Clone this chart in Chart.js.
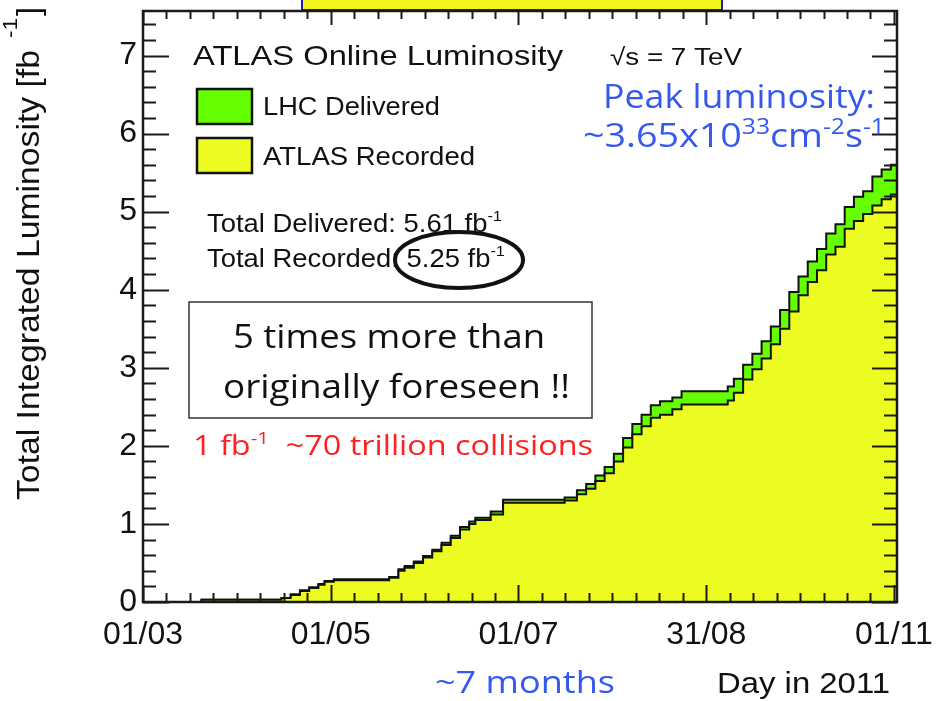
<!DOCTYPE html>
<html>
<head>
<meta charset="utf-8">
<script src="https://cdn.jsdelivr.net/npm/chart.js@4.4.1/dist/chart.umd.min.js"></script>
<style>
  body { margin: 0; background: #fff; }
  #wrap { width: 937px; height: 701px; }
</style>
</head>
<body>
<div id="wrap"><canvas id="lumiChart" width="937" height="701"></canvas></div>
<script>
// days since 01/03/2011
const days = [0, 19, 45, 48, 51, 54, 57, 59, 62, 80, 83, 85, 88, 91, 94, 97, 100, 103, 106, 108, 113, 117,
  137, 141, 144, 147, 150, 153, 156, 159, 162, 165, 168, 172, 175, 190, 192, 195, 198, 201, 204, 207,
  210, 213, 216, 219, 222, 225, 228, 231, 234, 237, 240, 243, 245];

// LHC delivered [fb^-1]
const delivered = [0, 0.03, 0.05, 0.10, 0.15, 0.19, 0.23, 0.27, 0.29, 0.32, 0.42, 0.46, 0.52, 0.59, 0.67, 0.76, 0.85, 0.96, 1.03, 1.08, 1.16, 1.31,
  1.34, 1.43, 1.51, 1.62, 1.73, 1.90, 2.10, 2.28, 2.40, 2.52, 2.57, 2.62, 2.70, 2.76, 2.86, 3.04, 3.18, 3.34, 3.53, 3.74,
  3.97, 4.17, 4.36, 4.52, 4.72, 4.84, 5.06, 5.19, 5.26, 5.45, 5.54, 5.60, 5.61];

// ATLAS recorded [fb^-1]
const recorded = [0, 0.03, 0.05, 0.09, 0.14, 0.18, 0.22, 0.26, 0.28, 0.31, 0.40, 0.44, 0.50, 0.57, 0.65, 0.73, 0.82, 0.93, 1.00, 1.05, 1.12, 1.27,
  1.30, 1.38, 1.45, 1.55, 1.65, 1.80, 1.98, 2.15, 2.25, 2.36, 2.40, 2.47, 2.53, 2.58, 2.68, 2.85, 2.98, 3.12, 3.30, 3.50,
  3.72, 3.93, 4.10, 4.25, 4.45, 4.55, 4.78, 4.88, 4.97, 5.08, 5.16, 5.22, 5.25];

const xTickDays = [0, 61, 122, 183, 244];
const xTickLabels = ['01/03', '01/05', '01/07', '31/08', '01/11'];
const yTicks = [0, 1, 2, 3, 4, 5, 6, 7];

const GREEN = '#66ff00';
const YELLOW = '#ecfc20';
const BLUE = '#3558ee';
const RED = '#ff2020';
const SANS = '"Liberation Sans", Arial, sans-serif';
const COMIC = '"Comic Sans MS", "Open Sans", sans-serif';

// draw a line of text pieces (for superscripts), squeezed/stretched to a given width
function drawRich(ctx, parts, x, y, width, color, family) {
  ctx.save();
  ctx.fillStyle = color;
  ctx.textBaseline = 'alphabetic';
  ctx.textAlign = 'left';
  let total = 0;
  parts.forEach(p => {
    ctx.font = (p.weight || '') + ' ' + p.size + 'px ' + family;
    total += ctx.measureText(p.t).width;
  });
  ctx.translate(x, y);
  ctx.scale(width / total, 1);
  let cx = 0;
  parts.forEach(p => {
    ctx.font = (p.weight || '') + ' ' + p.size + 'px ' + family;
    ctx.fillText(p.t, cx, p.dy || 0);
    cx += ctx.measureText(p.t).width;
  });
  ctx.restore();
}

const decorations = {
  id: 'decorations',
  beforeDraw(chart) {
    const ctx = chart.ctx;
    // title box peeking at the top
    ctx.save();
    ctx.fillStyle = '#f2f41c';
    ctx.strokeStyle = '#2020b0';
    ctx.lineWidth = 2;
    ctx.fillRect(302, -5, 420, 15);
    ctx.strokeRect(302, -5, 420, 15);
    ctx.restore();
  },
  afterDatasetsDraw(chart) {
    const ctx = chart.ctx;
    const xs = chart.scales.x, ys = chart.scales.y;
    const a = chart.chartArea;

    ctx.save();
    ctx.strokeStyle = '#1a1a1a';
    ctx.lineWidth = 2;
    ctx.beginPath();
    // x ticks, inside the frame, bottom and top
    for (let k = 0; k <= 32; k++) {
      const px = Math.round(xs.getPixelForValue(k * 61 / 8)) + 0.5;
      const major = k % 8 === 0;
      ctx.moveTo(px, a.bottom); ctx.lineTo(px, a.bottom - (major ? 17 : 9));
      ctx.moveTo(px, a.top); ctx.lineTo(px, a.top + (major ? 14 : 8));
    }
    // y ticks, left and right
    for (let k = 0; k * 0.2 <= 7.5; k++) {
      const py = Math.round(ys.getPixelForValue(k * 0.2)) + 0.5;
      const major = k % 5 === 0;
      ctx.moveTo(a.left, py); ctx.lineTo(a.left + (major ? 26 : 13), py);
      ctx.moveTo(a.right, py); ctx.lineTo(a.right - (major ? 25 : 13), py);
    }
    ctx.stroke();
    ctx.lineWidth = 2.5;
    ctx.strokeRect(a.left, a.top, a.right - a.left, a.bottom - a.top);
    ctx.restore();
  },
  afterDraw(chart) {
    const ctx = chart.ctx;

    // y axis title, rotated
    ctx.save();
    ctx.translate(39, 500);
    ctx.rotate(-Math.PI / 2);
    drawRich(ctx, [{ t: 'Total Integrated Luminosity [fb', size: 31 }], 0, 0, 450, '#111', SANS);
    drawRich(ctx, [{ t: '-1', size: 20 }], 462, -22, 20, '#111', SANS);
    drawRich(ctx, [{ t: ']', size: 31 }], 484, 0, 9, '#111', SANS);
    ctx.restore();

    // x axis title and months note
    drawRich(ctx, [{ t: 'Day in 2011', size: 29 }], 717, 693, 173, '#111', SANS);
    drawRich(ctx, [{ t: '~7 months', size: 31 }], 435, 693, 180, BLUE, COMIC);

    // legend block
    drawRich(ctx, [{ t: 'ATLAS Online Luminosity', size: 28 }], 193, 65, 370, '#111', SANS);
    drawRich(ctx, [{ t: '\u221As = 7 TeV', size: 24 }], 610, 65, 132, '#111', SANS);
    ctx.save();
    ctx.lineWidth = 2.5;
    ctx.strokeStyle = '#111';
    ctx.fillStyle = GREEN;
    ctx.fillRect(197, 89, 55, 35);
    ctx.strokeRect(197, 89, 55, 35);
    ctx.fillStyle = YELLOW;
    ctx.fillRect(197, 138, 55, 35);
    ctx.strokeRect(197, 138, 55, 35);
    ctx.restore();
    drawRich(ctx, [{ t: 'LHC Delivered', size: 25 }], 263, 115, 177, '#111', SANS);
    drawRich(ctx, [{ t: 'ATLAS Recorded', size: 25 }], 263, 165, 212, '#111', SANS);

    drawRich(ctx, [{ t: 'Total Delivered: 5.61 fb', size: 25 }, { t: '-1', size: 15, dy: -11 }], 207, 232, 295, '#111', SANS);
    drawRich(ctx, [{ t: 'Total Recorded: 5.25 fb', size: 25 }, { t: '-1', size: 15, dy: -11 }], 207, 267, 298, '#111', SANS);

    // circle round the recorded total
    ctx.save();
    ctx.lineWidth = 4;
    ctx.strokeStyle = '#111';
    ctx.beginPath();
    ctx.ellipse(459, 260, 64, 28, 0, 0, Math.PI * 2);
    ctx.stroke();
    ctx.restore();

    // boxed remark
    ctx.save();
    ctx.fillStyle = '#fff';
    ctx.fillRect(189, 302, 403, 116);
    ctx.lineWidth = 1.5;
    ctx.strokeStyle = '#333';
    ctx.strokeRect(189, 302, 403, 116);
    ctx.restore();
    drawRich(ctx, [{ t: '5 times more than', size: 33, weight: '500' }], 233, 348, 312, '#111', COMIC);
    drawRich(ctx, [{ t: 'originally foreseen !!', size: 33, weight: '500' }], 223, 398, 347, '#111', COMIC);

    drawRich(ctx, [{ t: '1 fb', size: 27 }, { t: '-1', size: 17, dy: -11 }, { t: '  ~70 trillion collisions', size: 27 }],
      193, 455, 400, RED, COMIC);

    // peak luminosity note
    drawRich(ctx, [{ t: 'Peak luminosity:', size: 32 }], 603, 108, 272, BLUE, COMIC);
    drawRich(ctx, [
      { t: '~3.65x10', size: 32 }, { t: '33', size: 21, dy: -13 },
      { t: 'cm', size: 32 }, { t: '-2', size: 21, dy: -13 },
      { t: 's', size: 32 }, { t: '-1', size: 21, dy: -13 }
    ], 583, 147, 302, BLUE, COMIC);
  }
};

const ctx = document.getElementById('lumiChart').getContext('2d');
const lumiChart = new Chart(ctx, {
  type: 'line',
  data: {
    datasets: [{
      label: 'ATLAS Recorded',
      data: days.map((d, i) => ({ x: d, y: recorded[i] })),
      borderColor: '#111',
      backgroundColor: YELLOW,
      borderWidth: 2,
      stepped: true,
      fill: 'origin',
      pointRadius: 0
    }, {
      label: 'LHC Delivered',
      data: days.map((d, i) => ({ x: d, y: delivered[i] })),
      borderColor: '#111',
      backgroundColor: GREEN,
      borderWidth: 2,
      stepped: true,
      fill: 'origin',
      pointRadius: 0
    }]
  },
  options: {
    responsive: false,
    animation: false,
    devicePixelRatio: 1,
    layout: { padding: { top: 11, right: 40, left: 0, bottom: 0 } },
    plugins: {
      legend: { display: false },
      tooltip: { enabled: false }
    },
    scales: {
      x: {
        type: 'linear',
        min: 0,
        max: 245,
        grid: { display: false, drawTicks: false },
        border: { display: false },
        afterBuildTicks: scale => { scale.ticks = xTickDays.map(v => ({ value: v })); },
        afterFit: scale => {
          scale.height = 99;
          scale.paddingLeft = 0;
          scale.paddingRight = 0;
        },
        ticks: {
          autoSkip: false,
          maxRotation: 0,
          padding: 14,
          color: '#111',
          font: { family: SANS, size: 32 },
          callback: (v) => xTickLabels[xTickDays.indexOf(v)]
        }
      },
      y: {
        min: 0,
        max: 7.57,
        grid: { display: false, drawTicks: false },
        border: { display: false },
        afterBuildTicks: scale => { scale.ticks = yTicks.map(v => ({ value: v })); },
        afterFit: scale => {
          scale.width = 143;
          scale.paddingTop = 0;
          scale.paddingBottom = 0;
        },
        ticks: {
          padding: 6,
          color: '#111',
          font: { family: SANS, size: 32 }
        }
      }
    }
  },
  plugins: [decorations]
});
</script>
</body>
</html>
